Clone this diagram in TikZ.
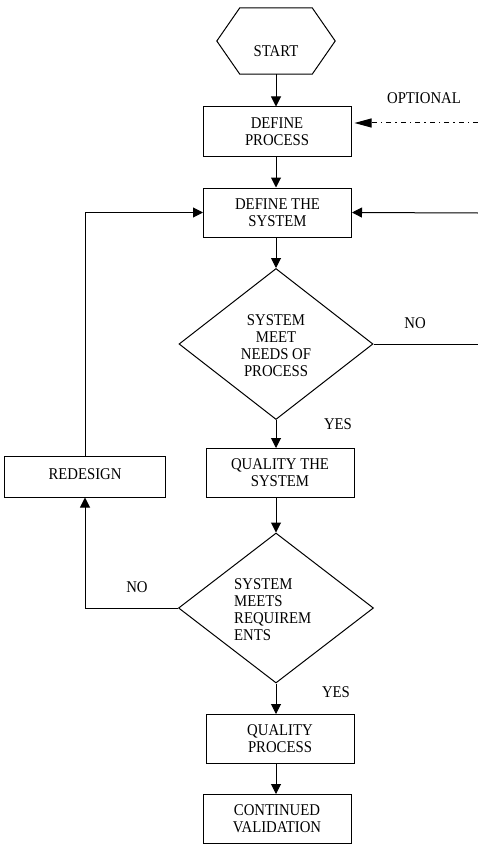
\documentclass[tikz,border=0pt]{standalone}
\usepackage{fontspec}
\setmainfont[FakeStretch=0.9]{Liberation Serif}
\usetikzlibrary{arrows.meta,shapes.geometric}
\begin{document}
\begin{tikzpicture}[x=1pt,y=-1pt,
 every node/.style={font=\fontsize{16.4}{17}\selectfont, inner sep=0pt},
 box/.style={draw, line width=1pt, rectangle, minimum width=148pt, minimum height=49pt, align=center, text depth=-3.5pt},
 dia/.style={draw, line width=1pt, diamond, minimum width=194pt, minimum height=151pt},
 lbl/.style={align=center},
 arr/.style={line width=1pt, -{Triangle[length=10pt,width=10pt]}},
 ln/.style={line width=1pt},
]
\useasboundingbox (0,0) rectangle (478,864);
% nodes
\node[minimum width=118pt, minimum height=66pt] (start) at (276,41) {};
\draw[ln] (start.west) -- ([xshift=23pt]start.north west) -- ([xshift=-23pt]start.north east)
  -- (start.east) -- ([xshift=-23pt]start.south east) -- ([xshift=23pt]start.south west) -- cycle;
\node (startt) at (276,51) {START};
\node[box] (dp) at (277,131.5) {DEFINE\\PROCESS};
\node[box] (ds) at (277.5,212.5) {DEFINE THE\\SYSTEM};
\node[dia] (d1) at (276,344) {};
\node[lbl] (d1t) at (276,346) {SYSTEM\\MEET\\NEEDS OF\\PROCESS};
\node[box] (qs) at (280,473) {QUALITY THE\\SYSTEM};
\node[box, minimum width=161pt, minimum height=41pt, text depth=4pt] (rd) at (85,476.5) {REDESIGN};
\node[dia, minimum width=195pt, minimum height=150pt] (d2) at (276,608) {};
\node[align=left, anchor=west] (d2t) at (234,610) {SYSTEM\\MEETS\\REQUIREM\\ENTS};
\node[box] (qp) at (280,739) {QUALITY\\PROCESS};
\node[box] (cv) at (277,819) {CONTINUED\\VALIDATION};
% labels
\node (opt) at (424,98) {OPTIONAL};
\node (no1) at (415,323) {NO};
\node (yes1) at (338,424) {YES};
\node (no2) at (137,587) {NO};
\node (yes2) at (336,692) {YES};
% free ends
\coordinate (e1) at (478,123);
\coordinate (e2) at (478,213);
\coordinate (e3) at (478,344);
% connectors
\draw[arr] (start.south) -- (start.south |- dp.north);
\draw[arr] (dp.south -| start.south) -- (ds.north -| start.south);
\draw[arr] (ds.south -| d1.north) -- (d1.north);
\draw[arr] (d1.south) -- (qs.north -| d1.south);
\draw[arr] (qs.south -| d2.north) -- (d2.north);
\draw[arr] (d2.south) -- (qp.north -| d2.south);
\draw[arr] (qp.south -| d2.south) -- (cv.north -| d2.south);
\draw[arr] (rd.north) |- (ds.west);
\draw[arr] (d2.west) -| (rd.south);
\draw[ln] (d1.east) -- (e3);
\draw[arr] (e2) -- (ds.east);
\draw[line width=1pt, dash pattern=on 5pt off 4pt on 1.5pt off 4pt, -{Triangle[length=17pt,width=9pt]}, shorten >=3pt] (e1) -- (dp.east |- e1);
\end{tikzpicture}
\end{document}
